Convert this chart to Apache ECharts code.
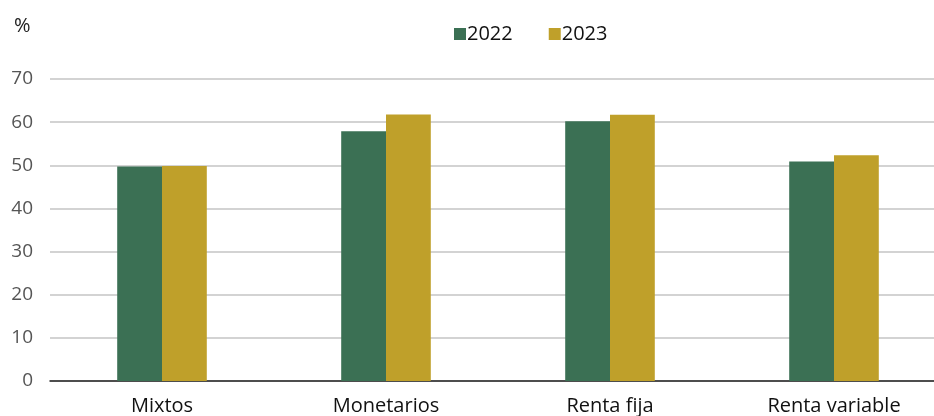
<!DOCTYPE html>
<html><head><meta charset="utf-8">
<script src="https://cdn.jsdelivr.net/npm/echarts@6/dist/echarts.min.js"></script>
<style>html,body{margin:0;padding:0;background:#fff;overflow:hidden;width:934px;height:416px}#c{width:946px;height:416px}</style>
</head><body><div id="c"></div>
<script>
const categories = ["Mixtos", "Monetarios", "Renta fija", "Renta variable"];
const values2022 = [49.7, 57.9, 60.2, 50.9];
const values2023 = [49.85, 61.8, 61.7, 52.3];
const seriesNames = ["2022", "2023"];
const yTicks = [0, 10, 20, 30, 40, 50, 60, 70];

const chart = echarts.init(document.getElementById('c'), null, {renderer: 'canvas'});
const font = '"Open Sans", "Noto Sans", sans-serif';
chart.setOption({
  animation: false,
  backgroundColor: '#fff',
  graphic: [{type: 'text', left: 14, top: 16, style: {text: '%', font: '20px ' + font, fill: '#222'}}],
  legend: {
    data: seriesNames, left: 449, top: 19, itemWidth: 12, itemHeight: 12, itemGap: 36,
    icon: 'rect', textStyle: {fontFamily: font, fontSize: 20, color: '#111', padding: [0,0,0,-4]}
  },
  grid: {left: 50, right: 0, top: 79, bottom: 35, containLabel: false},
  xAxis: {
    type: 'category', data: categories,
    axisLine: {lineStyle: {color: '#222', width: 1.5}},
    axisTick: {show: false},
    axisLabel: {fontFamily: font, fontSize: 20, color: '#111', margin: 15}
  },
  yAxis: {
    type: 'value', min: yTicks[0], max: yTicks[yTicks.length-1], interval: 10,
    axisLine: {show: false}, axisTick: {show: false},
    axisLabel: {fontFamily: font, fontSize: 19, color: '#555', margin: 17},
    splitLine: {lineStyle: {color: '#c4c4c4', width: 1.5}}
  },
  series: [
    {name: seriesNames[0], type: 'bar', data: values2022, barGap: '0%', barCategoryGap: '60%',
     itemStyle: {color: '#3b7054'}},
    {name: seriesNames[1], type: 'bar', data: values2023, barGap: '0%', barCategoryGap: '60%',
     itemStyle: {color: '#bfa02a'}}
  ]
});
</script></body></html>
